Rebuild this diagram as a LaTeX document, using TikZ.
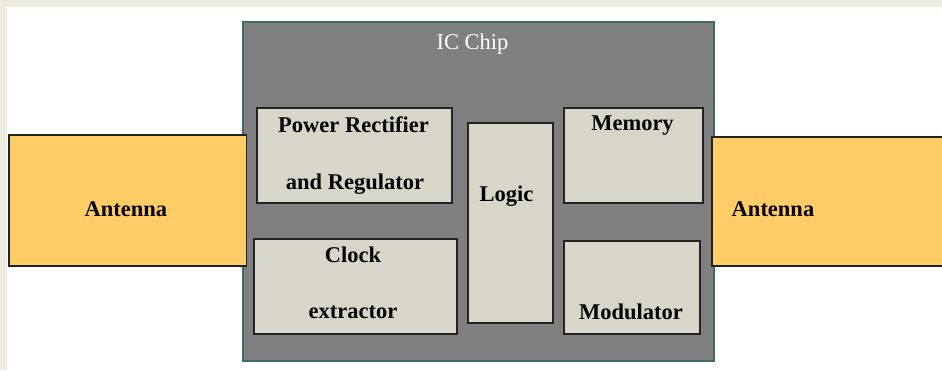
\documentclass[tikz,border=0pt]{standalone}
\usepackage{fontspec}
\setmainfont{Liberation Serif}
\definecolor{pagebeige}{HTML}{EEECE1}
\definecolor{chipgray}{HTML}{808080}
\definecolor{chipedge}{HTML}{3E6B66}
\definecolor{antfill}{HTML}{FFCC66}
\definecolor{blockfill}{HTML}{D7D6C8}
\definecolor{blockedge}{HTML}{222222}
\begin{document}
\begin{tikzpicture}[x=1bp,y=-1bp,
  chipbox/.style={rectangle,inner sep=0pt,fill=chipgray,draw=chipedge,line width=1.5bp},
  antbox/.style={rectangle,inner sep=0pt,fill=antfill,draw=blockedge,line width=1.3bp},
  blockbox/.style={rectangle,inner sep=0pt,fill=blockfill,draw=blockedge,line width=1.6bp},
  lbl/.style={anchor=base,inner sep=0pt,font=\fontsize{22.5bp}{26bp}\selectfont\bfseries,text=black},
  chiplbl/.style={anchor=base,inner sep=0pt,font=\fontsize{22.5bp}{26bp}\selectfont,text=white}]
  % page background
  \useasboundingbox (0,0) rectangle (942,370);
  \fill[pagebeige] (0,0) rectangle (942,370);
  \fill[white] (7,7) rectangle (942,370);

  % chip body
  \node[chipbox,minimum width=471bp,minimum height=339bp] (chip) at (478.5,191.5) {};
  \node[chiplbl] (chiptitle) at (472.5,49.5) {IC Chip};

  % antennas on both sides
  \node[antbox,minimum width=237.5bp,minimum height=131bp] (antL) at (127.75,200.5) {};
  \node[antbox,minimum width=236bp,minimum height=129bp] (antR) at (830,201.5) {};
  \node[lbl] (antLtext) at (126,216) {Antenna};
  \node[lbl] (antRtext) at (773,216) {Antenna};

  % functional blocks inside the chip
  \node[blockbox,minimum width=195bp,minimum height=95bp] (power) at (354.5,155.5) {};
  \node[blockbox,minimum width=203bp,minimum height=95bp] (clock) at (355.5,286.5) {};
  \node[blockbox,minimum width=85bp,minimum height=200bp] (logic) at (510.5,223) {};
  \node[blockbox,minimum width=139bp,minimum height=95bp] (memory) at (633.5,155.5) {};
  \node[blockbox,minimum width=136bp,minimum height=93bp] (modulator) at (632,287.5) {};

  \node[lbl] (powerA) at (353.5,132) {Power Rectifier};
  \node[lbl] (powerB) at (355,189) {and Regulator};
  \node[lbl] (clockA) at (353,262) {Clock};
  \node[lbl] (clockB) at (353,318.5) {extractor};
  \node[lbl] (logictext) at (506.5,201.5) {Logic};
  \node[lbl] (memtext) at (632.5,130) {Memory};
  \node[lbl] (modtext) at (631,319) {Modulator};
\end{tikzpicture}
\end{document}
